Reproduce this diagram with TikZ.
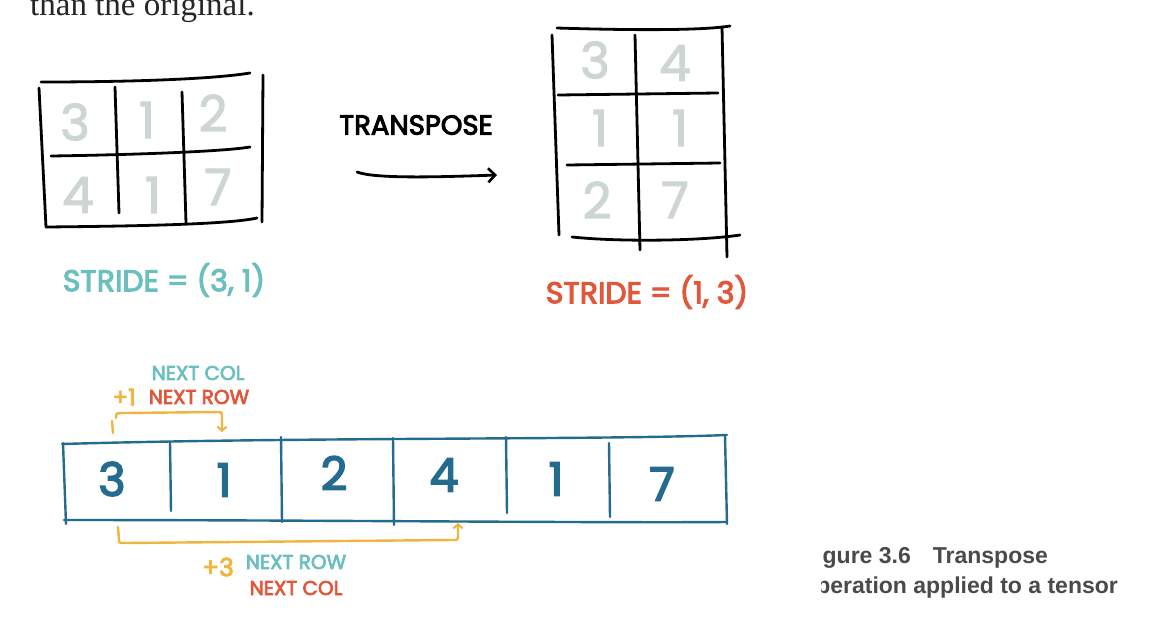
\documentclass[tikz,border=0pt]{standalone}
\usepackage{fontspec}
\setmainfont{Liberation Serif}
\newfontfamily\hand{Poppins}[FakeBold=3.5]
\newfontfamily\handthin{Poppins}[FakeBold=2.2]
\newfontfamily\capfont{Liberation Sans}
\usetikzlibrary{arrows.meta}
\definecolor{gridgray}{HTML}{CDD6D3}
\definecolor{arrblue}{HTML}{246C8F}
\definecolor{tealc}{HTML}{6BBFBE}
\definecolor{redc}{HTML}{E2573A}
\definecolor{orng}{HTML}{F0B53E}
\definecolor{capgray}{HTML}{4A4A4A}
\newcommand\hsz[1]{\fontsize{#1}{#1}\selectfont}
\tikzset{
  pen/.style={line width=2.8pt, line cap=round, black},
  bluepen/.style={line width=2.4pt, line cap=round, draw=arrblue},
  orangepen/.style={line width=2.4pt, line cap=round, draw=orng},
  gdig/.style={font=\handthin\hsz{50}, text=gridgray, inner sep=0pt},
  adig/.style={font=\hand\hsz{46}, text=arrblue, inner sep=0pt},
  lbl/.style={font=\hand\hsz{20}, inner sep=0pt},
  bigtip/.style={-{Straight Barb[length=7pt,width=14pt,line width=2.6pt]}},
  smalltip/.style={-{Straight Barb[length=4pt,width=9pt,line width=2pt]}}
}
\begin{document}
\begin{tikzpicture}[x=1pt,y=-1pt]
\useasboundingbox (0,0) rectangle (1150,624);
\clip (0,0) rectangle (1150,624);
\fill[white] (0,0) rectangle (1150,624);

% top cropped text
\node[anchor=base west, inner sep=0pt, font=\hsz{33}, text=black!85] (toptext) at (30,15) {than the original.};

% left grid
\draw[pen] (41,82) .. controls (150,82) and (220,78) .. (250,73);
\draw[pen] (39,88) -- (46,227);
\draw[pen] (263,75) -- (262,222);
\draw[pen] (46,227) .. controls (150,226) and (230,224) .. (257,218);
\draw[pen] (51,156) .. controls (120,155) and (220,152) .. (250,147);
\draw[pen] (115,87) -- (119,213);
\draw[pen] (182,92) -- (186,223);
\node[gdig] (l11) at (75,122) {3};
\node[gdig] (l12) at (147,120) {1};
\node[gdig] (l13) at (213,113) {2};
\node[gdig] (l21) at (78,195) {4};
\node[gdig] (l22) at (153,195) {1};
\node[gdig] (l23) at (218,187) {7};
\node[font=\hand\hsz{30}, text=tealc, inner sep=0pt] (sl) at (164,280) {STRIDE = (3, 1)};

% transpose
\node[font=\hand\hsz{27.5}, text=black, inner sep=0pt] (tp) at (416,125) {TRANSPOSE};
\coordinate (ta) at (357,172);
\coordinate (tb) at (497,175);
\draw[pen, bigtip] (ta) .. controls (375,179) and (440,177) .. (tb);

% right grid
\draw[pen] (557,28) .. controls (620,30) and (700,31) .. (730,26);
\draw[pen] (552,35) -- (559,235);
\draw[pen] (635,35) -- (640,250);
\draw[pen] (722,27) -- (727,257);
\draw[pen] (558,95) -- (718,93);
\draw[pen] (567,165) -- (720,163);
\draw[pen] (572,237) .. controls (620,242) and (700,241) .. (740,235);
\node[gdig] (r11) at (595,60) {3};
\node[gdig] (r12) at (675,63) {4};
\node[gdig] (r21) at (600,128) {1};
\node[gdig] (r22) at (680,128) {1};
\node[gdig] (r31) at (597,200) {2};
\node[gdig] (r32) at (675,200) {7};
\node[font=\hand\hsz{30}, text=redc, inner sep=0pt] (sr) at (647,292) {STRIDE = (1, 3)};

% storage array
\draw[bluepen] (62,444) .. controls (300,437) and (600,440) .. (727,435);
\draw[bluepen] (64,520) .. controls (300,520) and (600,523) .. (727,522);
\draw[bluepen] (63,443) -- (66,524);
\draw[bluepen] (725,436) -- (727,524);
\draw[bluepen] (170,442) -- (171,511);
\draw[bluepen] (281,437) -- (282,522);
\draw[bluepen] (393,438) -- (394,525);
\draw[bluepen] (506,437) -- (507,513);
\draw[bluepen] (609,443) -- (610,517);
\node[adig] (a1) at (112,479) {3};
\node[adig] (a2) at (224,480) {1};
\node[adig] (a3) at (334,473) {2};
\node[adig] (a4) at (444,475) {4};
\node[adig] (a5) at (556,479) {1};
\node[adig] (a6) at (662,484) {7};

% top bracket
\coordinate (t1a) at (112,421);
\coordinate (t1b) at (113,433);
\draw[orangepen] (t1a) -- (t1b);
\coordinate (b1s) at (116,418);
\coordinate (b1e) at (222,432);
\draw[orangepen, smalltip] (b1s) .. controls (116,413) .. (124,413) -- (217,412) .. controls (222,412) .. (222,418) -- (b1e);
\node[lbl, font=\hand\hsz{23}, text=orng] (p1) at (124,397) {+1};
\node[lbl, text=tealc] (nc1) at (198,373) {NEXT COL};
\node[lbl, text=redc] (nr1) at (199,397) {NEXT ROW};

% bottom bracket
\coordinate (b2s) at (118,527);
\coordinate (b2e) at (458,523);
\draw[orangepen, smalltip] (b2s) -- (119,539) .. controls (119,543) .. (125,543) -- (452,540) .. controls (458,540) .. (458,535) -- (b2e);
\node[lbl, font=\hand\hsz{25}, text=orng] (p3) at (218,567) {+3};
\node[lbl, text=tealc] (nr2) at (296,562) {NEXT ROW};
\node[lbl, text=redc] (nc2) at (296,588) {NEXT COL};

% caption (cropped on the left)
\begin{scope}
\clip (821,530) rectangle (1150,610);
\node[anchor=base west, inner sep=0pt, font=\capfont\bfseries\hsz{23}, text=capgray] (cap1) at (802,563) {Figure 3.6\hspace{22pt}Transpose};
\node[anchor=base west, inner sep=0pt, font=\capfont\bfseries\hsz{23}, text=capgray] (cap2) at (802,593) {operation applied to a tensor};
\end{scope}
\end{tikzpicture}
\end{document}
